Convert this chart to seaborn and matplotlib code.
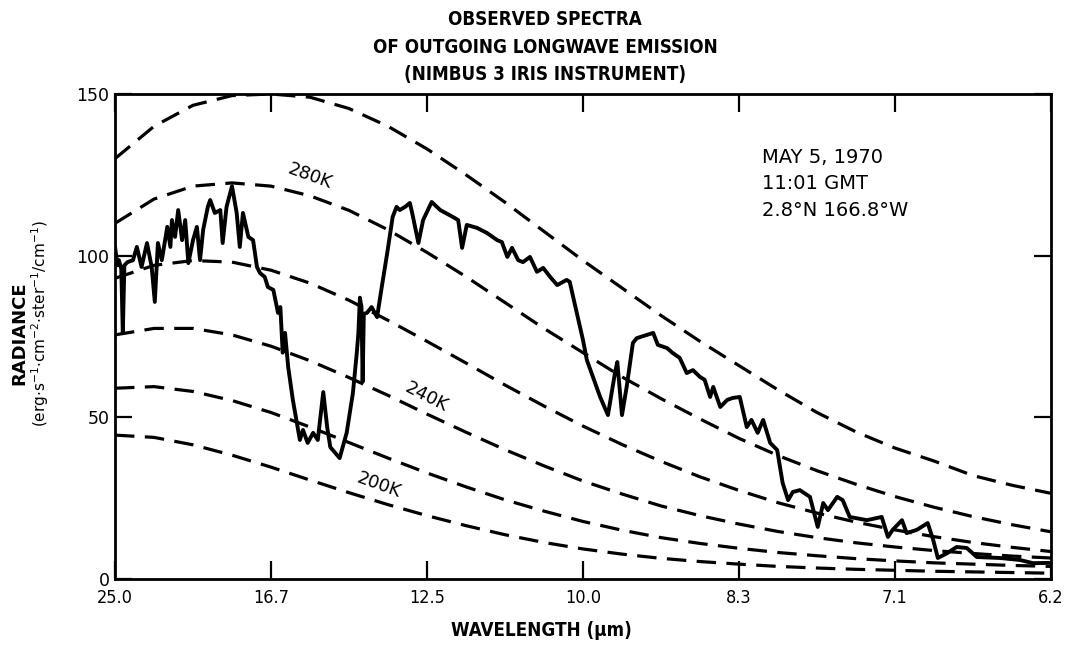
import matplotlib
matplotlib.use('Agg')
import matplotlib.pyplot as plt
from matplotlib import font_manager
import numpy as np
import pandas as pd
import seaborn as sns

# blackbody curves every 50 cm-1 (radiance units as on the axis)
bb_wavenumber = list(range(400, 1601, 50))
bb_300 = [130, 140, 146.5, 149.5, 150, 149, 145.5, 140, 133, 125, 116.5, 107.5, 98.5,
          90, 81.5, 73.5, 66, 58.5, 51.5, 45.5, 40.5, 36.5, 32, 29, 26.5]
bb_280 = [110, 117.5, 121.5, 122.5, 121.5, 118.5, 114, 108, 101, 93.5, 85.5, 77.5, 70,
          62.5, 55.8, 49.5, 43.5, 38.2, 33.5, 29.3, 25.5, 22.2, 19.3, 16.8, 14.6]
bb_260 = [93, 97, 98.5, 98, 95.5, 91.5, 86.2, 80, 73.5, 66.8, 60, 53.5, 47.3,
          41.6, 36.4, 31.6, 27.4, 23.6, 20.4, 17.6, 15.2, 13.1, 11.3, 9.8, 8.5]
bb_240 = [75.5, 77.5, 77.5, 75.5, 72, 67.5, 62.3, 56.8, 51, 45.4, 40, 35, 30.3,
          26.3, 22.6, 19.6, 17, 14.7, 12.8, 11.2, 9.9, 8.8, 7.9, 7.1, 6.5]
bb_220 = [59, 59.5, 58, 55.2, 51.5, 47, 42.2, 37.4, 32.8, 28.5, 24.5, 21, 17.8,
          15.1, 12.8, 11, 9.5, 8.2, 7.2, 6.3, 5.6, 5, 4.6, 4.2, 3.9]
bb_200 = [44.5, 43.8, 41.5, 38.3, 34.6, 30.6, 26.7, 23, 19.6, 16.5, 13.7, 11.3, 9.3,
          7.7, 6.4, 5.4, 4.6, 3.9, 3.4, 3.0, 2.7, 2.4, 2.2, 2.0, 1.8]
bb_labels = ['300K', '280K', '260K', '240K', '220K', '200K']

# observed IRIS spectrum (wavenumber cm-1, radiance)
spec_wavenumber = [400, 403, 405, 408, 410, 412, 416, 423, 428, 434, 441, 447, 451, 455,
                   460, 467, 471, 473, 477, 481, 486, 490, 494, 500, 505, 509, 513, 519,
                   522, 528, 535, 538, 543, 550, 556, 560, 564, 571, 577, 582, 586, 592,
                   596, 603, 609, 612, 615, 618, 622, 628, 637, 641, 647, 654, 660, 667,
                   672, 676, 688, 697, 705, 710, 712, 714, 716, 717.5, 719, 723, 729, 736,
                   742, 749, 756, 761, 765, 772, 778, 781, 789, 795, 806, 817, 833, 840,
                   845, 851, 864, 877, 890, 896, 903, 909, 917, 923, 932, 941, 949, 958,
                   967, 979, 983, 992, 1000, 1005, 1022, 1032, 1041, 1044, 1050, 1056,
                   1064, 1069, 1082, 1090, 1096, 1108, 1115, 1124, 1133, 1141, 1150, 1156,
                   1163, 1167, 1176, 1185, 1192, 1201, 1210, 1216, 1224, 1231, 1240, 1249,
                   1256, 1263, 1269, 1278, 1291, 1301, 1308, 1314, 1326, 1333, 1342, 1364,
                   1383, 1391, 1397, 1409, 1415, 1428, 1442, 1449, 1455, 1467, 1479, 1492,
                   1505, 1535, 1560, 1577, 1600]
spec_radiance = [102.8, 97, 98.6, 96, 76.1, 97, 98, 98.6, 102.7, 96.5, 103.9, 96.5, 85.7, 103.9,
                 98.6, 108.9, 102.7, 111, 105.8, 114.1, 104.8, 111, 97.7, 104.8, 108.9, 98.6, 108, 115.1,
                 117.2, 113.2, 114.1, 103.9, 115.1, 121.5, 113.2, 102.7, 113.2, 105.8, 104.8, 96.5, 94.6, 93.4,
                 90.3, 89.4, 82.3, 84.1, 70, 76.1, 65.6, 55.4, 43, 46.1, 42.1, 45.2, 43, 57.8,
                 47, 40.8, 37.4, 45.2, 57.5, 70, 76, 87, 84, 61, 82, 82.3, 84.1, 81,
                 90.3, 100.8, 112, 115.1, 114.1, 115.1, 116.3, 113.2, 103.9, 111, 116.6, 114.1, 112, 111,
                 102.4, 109.5, 108.6, 107, 104.8, 104.2, 99.6, 102.4, 98.6, 98, 99.6, 95, 96.2, 93.4,
                 90.9, 92.5, 91.9, 82.3, 73.9, 67.7, 56.3, 50.7, 63.7, 67.1, 50.7, 59.4,
                 73, 74.5, 75.5, 76.1, 72.4, 71.4, 69.9, 68.4, 63.7, 64.6, 62.5, 61.6,
                 56.3, 59.4, 53.2, 55.4, 56, 56.3, 47, 49.2, 45.2, 49.2, 42.1, 39.9,
                 29.7, 24.4, 26.9, 27.5, 25.4, 16.1, 23.5, 21.3, 25.4, 24.4, 19.2, 18.2,
                 19.2, 13, 15.2, 18.2, 14.2, 15.2, 17.3, 12.1, 6.5, 8.0, 9.9, 9.6,
                 6.8, 6.5, 5.9, 4.9, 5.0]

tick_wavenumber = [400, 600, 800, 1000, 1200, 1400, 1600]
tick_labels = ['25.0', '16.7', '12.5', '10.0', '8.3', '7.1', '6.2']
y_ticks = [0, 50, 100, 150]


def has_font(name):
    try:
        font_manager.findfont(font_manager.FontProperties(family=name),
                              fallback_to_default=False)
        return True
    except Exception:
        return False


sns.set_style('ticks')
plt.rcParams['font.family'] = ['DejaVu Sans']
plt.rcParams['lines.scale_dashes'] = False
plt.rcParams['axes.linewidth'] = 2.0
for key in ['text.color', 'axes.labelcolor', 'xtick.color', 'ytick.color', 'axes.edgecolor']:
    plt.rcParams[key] = 'black'

if has_font('Liberation Sans Narrow'):
    narrow = dict(family=['Liberation Sans Narrow', 'DejaVu Sans'])
else:
    narrow = dict(family=['DejaVu Sans'], stretch='condensed')

fig = plt.figure(figsize=(10.82, 6.45), dpi=100)
ax = fig.add_axes([0.1063, 0.1023, 0.865, 0.752])

bb = pd.DataFrame({
    'wavenumber': bb_wavenumber * 6,
    'radiance': bb_300 + bb_280 + bb_260 + bb_240 + bb_220 + bb_200,
    'temp': [t for t in bb_labels for _ in bb_wavenumber],
})
sns.lineplot(data=bb, x='wavenumber', y='radiance', style='temp',
             dashes={t: (14, 7.5) for t in bb_labels}, color='black',
             linewidth=2.3, estimator=None, legend=False, ax=ax)

sns.lineplot(x=spec_wavenumber, y=spec_radiance, color='black', linewidth=2.8,
             estimator=None, sort=False, ax=ax)

ax.set_xlim(400, 1600)
ax.set_ylim(0, 150)
ax.set_xticks(tick_wavenumber)
ax.set_xticklabels(tick_labels, fontsize=13, **narrow)
ax.set_yticks(y_ticks)
ax.set_yticklabels([str(v) for v in y_ticks], fontsize=12.5)
ax.tick_params(axis='x', direction='in', length=13, width=1.6, top=True, pad=7)
ax.tick_params(axis='y', direction='in', length=12, width=1.6, right=True, pad=4)
ax.set_xlabel('')
ax.set_ylabel('')
for s in ax.spines.values():
    s.set_visible(True)
    s.set_color('black')

# temperature labels along the curves
ax.text(650, 124.5, '280K', fontsize=13, rotation=-20, ha='center', va='center')
ax.text(799, 56.3, '240K', fontsize=13, rotation=-27, ha='center', va='center')
ax.text(738, 29.0, '200K', fontsize=13, rotation=-20, ha='center', va='center')

# observation info
ax.text(1229, 130.5, 'MAY 5, 1970', fontsize=14, ha='left', va='center')
ax.text(1229, 122.3, '11:01 GMT', fontsize=14, ha='left', va='center')
ax.text(1229, 114.0, '2.8°N 166.8°W', fontsize=14, ha='left', va='center')

fig.text(0.504, 0.969, 'OBSERVED SPECTRA', ha='center', va='center',
         fontsize=13.5, fontweight='bold', **narrow)
fig.text(0.504, 0.927, 'OF OUTGOING LONGWAVE EMISSION', ha='center', va='center',
         fontsize=13.5, fontweight='bold', **narrow)
fig.text(0.504, 0.885, '(NIMBUS 3 IRIS INSTRUMENT)', ha='center', va='center',
         fontsize=13.5, fontweight='bold', **narrow)

fig.text(0.500, 0.022, 'WAVELENGTH (μm)', ha='center', va='center',
         fontsize=13.5, fontweight='bold', **narrow)

fig.text(0.018, 0.484, 'RADIANCE', rotation=90, ha='center', va='center',
         fontsize=13, fontweight='bold')
fig.text(0.037, 0.499,
         r'(erg$\cdot$s$^{-1}$$\cdot$cm$^{-2}$$\cdot$ster$^{-1}$/cm$^{-1}$)',
         rotation=90, ha='center', va='center', fontsize=11)

fig.savefig('out.png', dpi=100)
